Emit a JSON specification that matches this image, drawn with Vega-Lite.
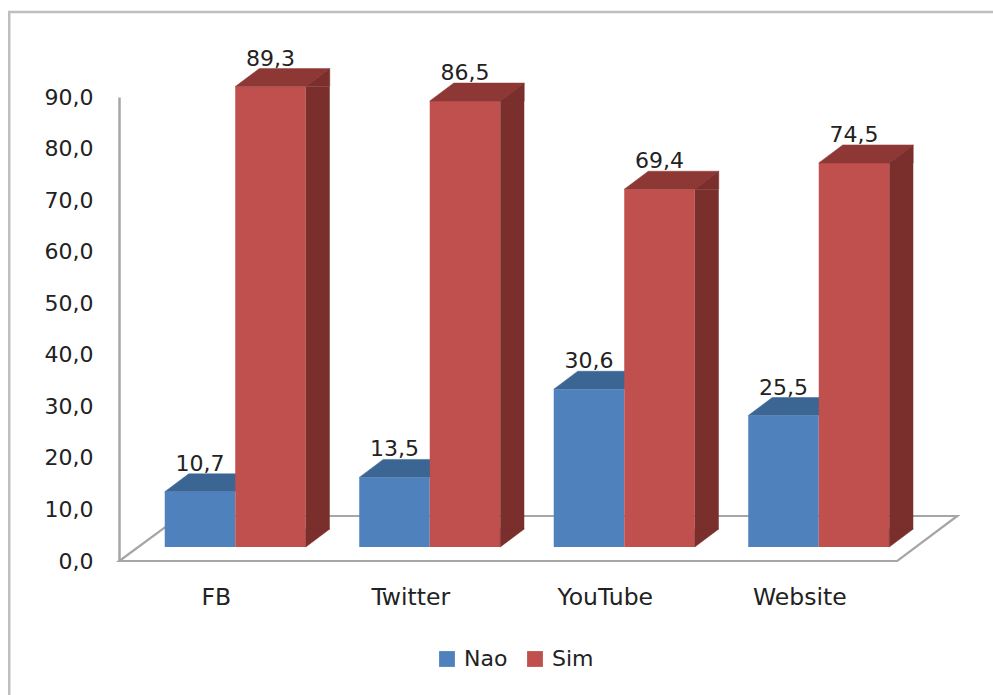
{
  "$schema": "https://vega.github.io/schema/vega-lite/v6.json",
  "width": 778,
  "height": 464,
  "autosize": "none",
  "padding": {"left": 119, "top": 97, "right": 96, "bottom": 134},
  "background": "white",
  "config": {
    "view": {"stroke": null},
    "font": "DejaVu Sans",
    "locale": {"number": {"decimal": ",", "thousands": ".", "grouping": [3], "currency": ["", ""]}}
  },
  "data": {"values": [
    {"rede": "FB", "serie": "Nao", "valor": 10.7},
    {"rede": "FB", "serie": "Sim", "valor": 89.3},
    {"rede": "Twitter", "serie": "Nao", "valor": 13.5},
    {"rede": "Twitter", "serie": "Sim", "valor": 86.5},
    {"rede": "YouTube", "serie": "Nao", "valor": 30.6},
    {"rede": "YouTube", "serie": "Sim", "valor": 69.4},
    {"rede": "Website", "serie": "Nao", "valor": 25.5},
    {"rede": "Website", "serie": "Sim", "valor": 74.5}
  ]},
  "encoding": {
    "x": {
      "field": "rede", "type": "nominal", "sort": ["FB", "Twitter", "YouTube", "Website"],
      "scale": {"range": [19, 797], "paddingInner": 0.275, "paddingOuter": 0.1375},
      "axis": {"title": null, "labelAngle": 0, "ticks": false, "labelPadding": 36, "labelOffset": -19, "labelFontSize": 23.5, "labelColor": "#222222", "labelBaseline": "middle", "domain": false, "zindex": 0}
    },
    "y": {
      "field": "valor", "type": "quantitative", "stack": null,
      "scale": {"domain": [0, 90], "nice": false},
      "axis": {"title": null, "values": [0, 10, 20, 30, 40, 50, 60, 70, 80, 90], "format": ".1f", "grid": false, "ticks": false, "labelPadding": 26, "labelFontSize": 22, "labelColor": "#222222", "domainColor": "#a6a6a6", "domainWidth": 2.5, "zindex": 0}
    }
  },
  "layer": [
    {
      "transform": [{"filter": "datum.rede === 'FB' && datum.serie === 'Nao'"}],
      "mark": {"type": "point", "shape": "M-226,134 L-226,-549 L758,-549", "size": 4, "filled": false, "stroke": "#bfbfbf", "strokeWidth": 2.5, "opacity": 1},
      "encoding": {"y": {"datum": 0}}
    },
    {
      "transform": [{"filter": "datum.rede === 'FB' && datum.serie === 'Nao'"}],
      "mark": {"type": "point", "shape": "M-116,0 L-55,-45 L722,-45 L662,0 Z", "size": 4, "filled": false, "stroke": "#a6a6a6", "strokeWidth": 2.2, "opacity": 1},
      "encoding": {"y": {"datum": 0}}
    },
    {
      "transform": [{"filter": "datum.serie === 'Nao'"}],
      "mark": {"type": "point", "shape": "M-35.25,-14 L35.25,-14 L59.25,-32 L-11.25,-32 Z", "size": 4, "filled": true, "fill": "#3b6593", "stroke": "#3b6593", "strokeWidth": 0.5, "opacity": 1},
      "encoding": {"xOffset": {"field": "serie", "scale": {"domain": ["Nao", "Sim"], "paddingInner": 0, "paddingOuter": 0}}}
    },
    {
      "mark": {"type": "bar", "yOffset": -14, "y2Offset": -14},
      "encoding": {
        "xOffset": {"field": "serie", "scale": {"domain": ["Nao", "Sim"], "paddingInner": 0, "paddingOuter": 0}},
        "y2": {"datum": 0},
        "color": {
          "field": "serie", "type": "nominal",
          "scale": {"domain": ["Nao", "Sim"], "range": ["#4f81bd", "#c0504d"]},
          "legend": {"title": null, "orient": "none", "legendX": 317, "legendY": 551, "direction": "horizontal", "columns": 2, "symbolType": "square", "symbolSize": 250, "symbolStrokeWidth": 0, "labelFontSize": 22, "labelColor": "#222222", "columnPadding": 16, "labelOffset": 6}
        }
      }
    },
    {
      "transform": [{"filter": "datum.serie === 'Sim'"}],
      "mark": {"type": "point", "shape": "M-35.25,-14 L35.25,-14 L59.25,-32 L-11.25,-32 Z", "size": 4, "filled": true, "fill": "#8e3836", "stroke": "#8e3836", "strokeWidth": 0.5, "opacity": 1},
      "encoding": {"xOffset": {"field": "serie", "scale": {"domain": ["Nao", "Sim"], "paddingInner": 0, "paddingOuter": 0}}}
    },
    {
      "transform": [{"filter": "datum.serie === 'Sim'"}],
      "mark": {"type": "bar", "width": 24, "color": "#7a2f2d", "xOffset": 82.5, "yOffset": -14, "y2Offset": -32},
      "encoding": {"y2": {"datum": 0}}
    },
    {
      "transform": [{"filter": "datum.serie === 'Sim'"}],
      "mark": {"type": "point", "shape": "M35.25,-14 L59.25,-14 L59.25,-32 Z", "size": 4, "filled": true, "fill": "#7a2f2d", "stroke": "#7a2f2d", "strokeWidth": 0.5, "opacity": 1},
      "encoding": {"xOffset": {"field": "serie", "scale": {"domain": ["Nao", "Sim"], "paddingInner": 0, "paddingOuter": 0}}}
    },
    {
      "transform": [{"filter": "datum.serie === 'Sim'"}],
      "mark": {"type": "point", "shape": "M35.25,-14 L59.25,-32 L35.25,-32 Z", "size": 4, "filled": true, "fill": "#7a2f2d", "stroke": "#7a2f2d", "strokeWidth": 0.5, "opacity": 1},
      "encoding": {
        "xOffset": {"field": "serie", "scale": {"domain": ["Nao", "Sim"], "paddingInner": 0, "paddingOuter": 0}},
        "y": {"datum": 0}
      }
    },
    {
      "mark": {"type": "text", "fontSize": 22, "color": "#222222", "yOffset": -42, "baseline": "middle", "align": "center"},
      "encoding": {
        "xOffset": {"field": "serie", "scale": {"domain": ["Nao", "Sim"], "paddingInner": 0, "paddingOuter": 0}},
        "text": {"field": "valor", "type": "quantitative", "format": ".1f"}
      }
    }
  ]
}
